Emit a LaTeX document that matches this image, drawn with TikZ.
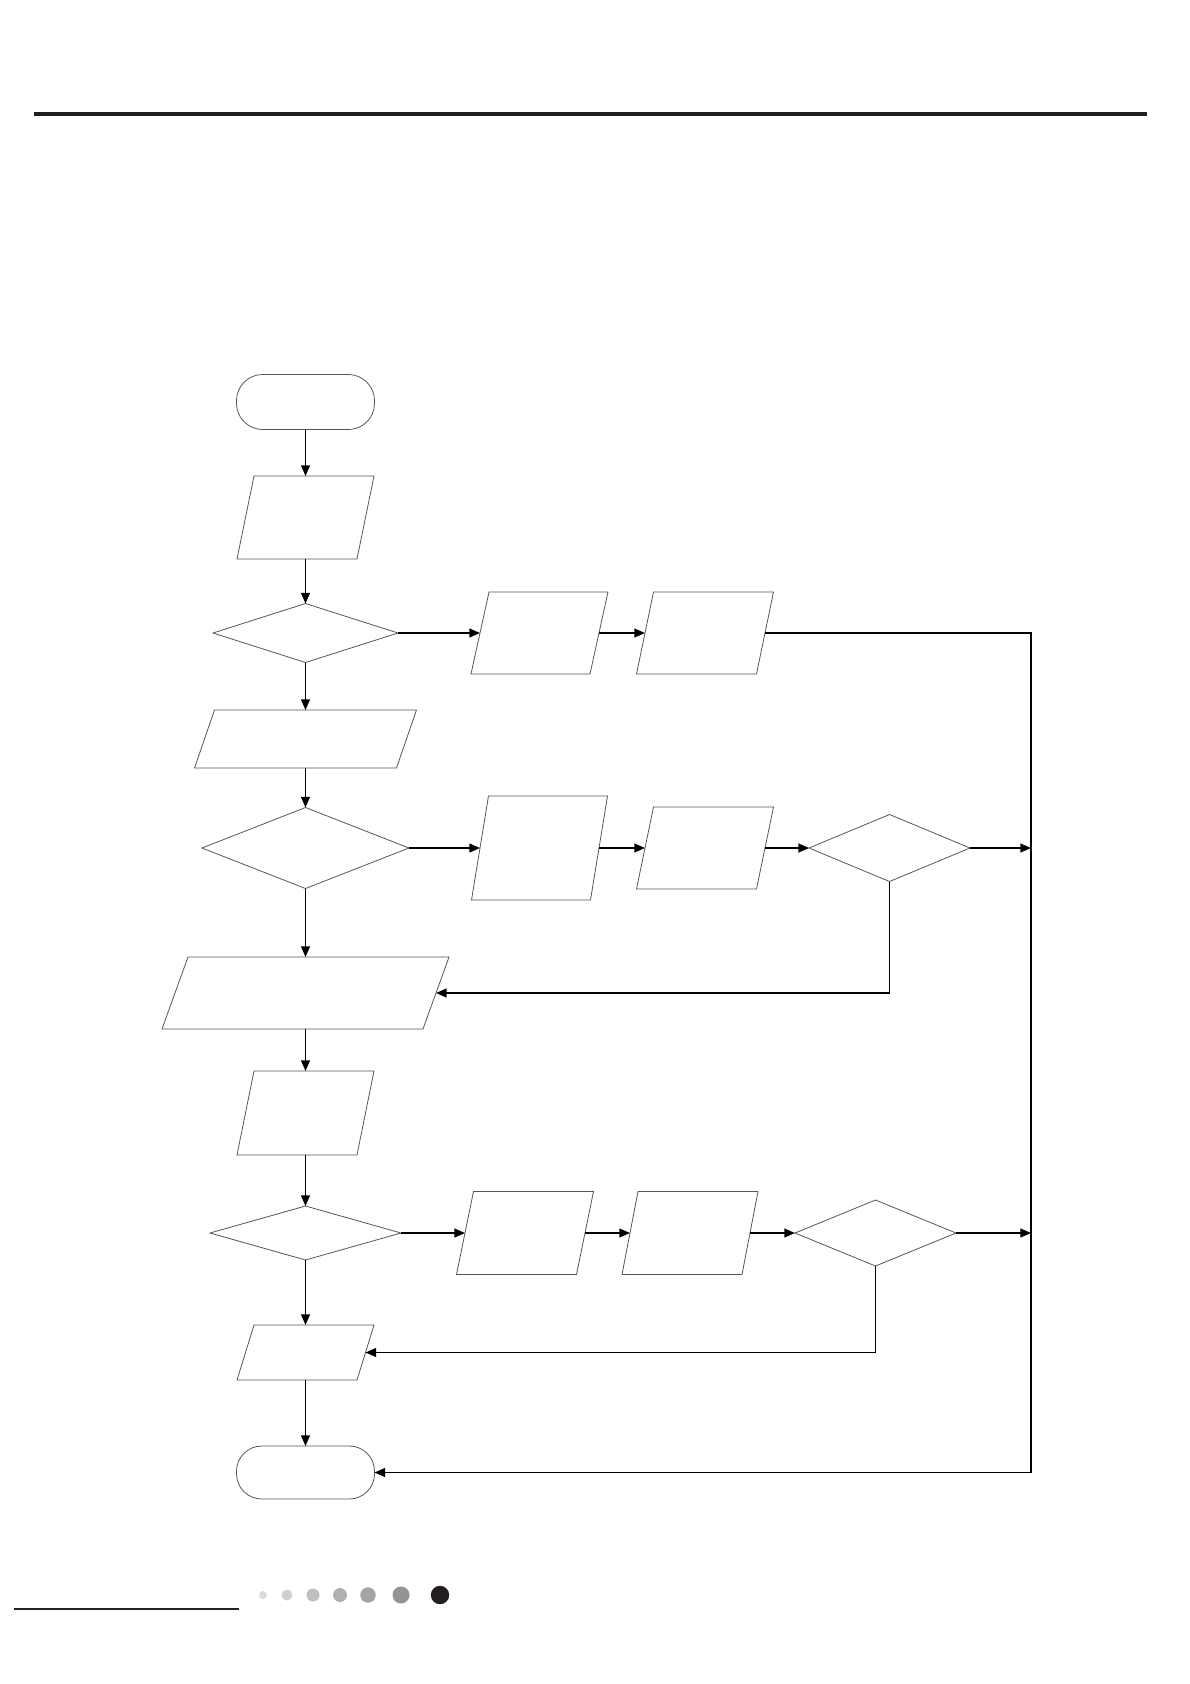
\documentclass[tikz,border=0pt]{standalone}
\usetikzlibrary{arrows.meta}
\definecolor{ink}{HTML}{231F20}
\definecolor{outl}{HTML}{555555}
\tikzset{
  hidden/.style={draw=none, inner sep=0pt, outer sep=0pt, rectangle},
  outline/.style={draw=outl, line width=0.45pt},
  conn/.style={draw=black, line width=0.8pt, -{Triangle[length=6pt,width=5pt]}},
  plain/.style={draw=black, line width=0.8pt},
}
% parallelogram: name, cx, cy, w, h, skew
\newcommand\mypara[6]{%
  \node[hidden, minimum width={#4*0.02cm}, minimum height={#5*0.02cm}] (#1) at (#2,#3) {};
  \draw[outline] ({#2-#4/2+#6/2},{#3-#5/2}) -- ({#2+#4/2+#6/2},{#3-#5/2})
     -- ({#2+#4/2-#6/2},{#3+#5/2}) -- ({#2-#4/2-#6/2},{#3+#5/2}) -- cycle;}
% diamond: name, cx, cy, w, h
\newcommand\mydia[5]{%
  \node[hidden, minimum width={#4*0.02cm}, minimum height={#5*0.02cm}] (#1) at (#2,#3) {};
  \draw[outline] (#1.north) -- (#1.east) -- (#1.south) -- (#1.west) -- cycle;}
% terminal: name, cx, cy, w, h
\newcommand\myterm[5]{%
  \node[hidden, draw=outl, line width=0.45pt, rounded corners={#5*0.0095cm},
        minimum width={#4*0.02cm}, minimum height={#5*0.02cm}] (#1) at (#2,#3) {};}
\begin{document}
\begin{tikzpicture}[x=0.02cm, y=-0.02cm]
\useasboundingbox[fill=white] (0,0) rectangle (1190,1684);
% header rule
\draw[ink, line width=2.3pt] (34,114) -- (1147,114);

\myterm{start}{305.5}{402}{138}{55}
\mypara{p1}{305.5}{517.5}{120}{83}{17}
\mydia{d1}{305.5}{633}{185}{59}
\mypara{p2a}{539.5}{633}{119}{82}{18}
\mypara{p2b}{705}{633}{120}{82}{17}
\mypara{p3}{305.5}{739}{202}{58}{20}
\mydia{d2}{305.5}{848}{207}{81}
\mypara{p4a}{539.5}{848}{119}{104}{17}
\mypara{p4b}{705}{848}{120}{82}{17}
\mydia{d3}{889.5}{848}{161}{67}
\mypara{p5}{305.5}{993}{261}{72}{26}
\mypara{p6}{305.5}{1113}{120}{84}{17}
\mydia{d4}{305.5}{1233}{191}{54}
\mypara{p7a}{525}{1233}{120}{83}{17}
\mypara{p7b}{690}{1233}{120}{83}{16}
\mydia{d5}{875.5}{1233}{161}{66}
\mypara{p8}{305.5}{1352.5}{120}{55}{17}
\myterm{end}{305.5}{1472.5}{138}{53}

\coordinate (rt) at (1031,633);
\coordinate (rb) at (1031,1472.5);

% main column
\draw[conn] (start.south) -- (p1.north);
\draw[conn] (p1.south) -- (d1.north);
\draw[conn] (d1.south) -- (p3.north);
\draw[conn] (p3.south) -- (d2.north);
\draw[conn] (d2.south) -- (p5.north);
\draw[conn] (p5.south) -- (p6.north);
\draw[conn] (p6.south) -- (d4.north);
\draw[conn] (d4.south) -- (p8.north);
\draw[conn] (p8.south) -- (end.north);

% row 1
\draw[conn] (d1.east) -- (p2a.west);
\draw[conn] (p2a.east) -- (p2b.west);
\draw[conn] (p2b.east) -- (rt) -- (rb) -- (end.east);

% row 2
\draw[conn] (d2.east) -- (p4a.west);
\draw[conn] (p4a.east) -- (p4b.west);
\draw[conn] (p4b.east) -- (d3.west);
\draw[conn] (d3.east) -- (rt |- d3.east);
\draw[conn] (d3.south) |- (p5.east);

% row 3
\draw[conn] (d4.east) -- (p7a.west);
\draw[conn] (p7a.east) -- (p7b.west);
\draw[conn] (p7b.east) -- (d5.west);
\draw[conn] (d5.east) -- (rt |- d5.east);
\draw[conn] (d5.south) |- (p8.east);

% footer
\draw[ink, line width=1.1pt] (14,1609) -- (239,1609);
\fill[black!14] (263,1595) circle (4);
\fill[black!19] (287,1595) circle (5.5);
\fill[black!25] (313,1595) circle (6.5);
\fill[black!31] (340,1595) circle (7);
\fill[black!36] (368,1595) circle (7.7);
\fill[black!42] (401,1595) circle (8.5);
\fill[ink] (440,1595) circle (9.2);
\end{tikzpicture}
\end{document}
